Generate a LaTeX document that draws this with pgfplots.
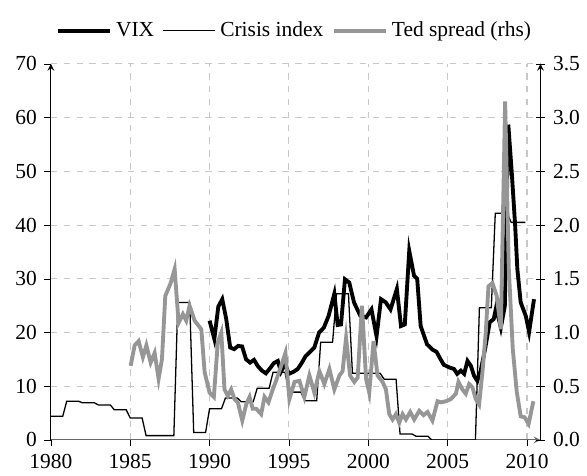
\documentclass[border=0pt]{standalone}
\usepackage{fontspec}
\setmainfont{Liberation Serif}
\usepackage{pgfplots}
\pgfplotsset{compat=1.18}
\definecolor{tedgray}{RGB}{150,150,150}
\definecolor{gridgray}{RGB}{200,200,200}

\begin{document}
\begin{tikzpicture}
\pgfplotsset{
  base/.style={
    width=228.3pt, height=175.3pt, scale only axis,
    xmin=1980, xmax=2010.85,
    font=\fontsize{10}{12}\selectfont,
    /pgf/number format/assume math mode=true,
    /pgf/number format/1000 sep={},
    axis line style={-},
  },
}
% left axis: VIX and crisis index
\begin{axis}[base, name=ax,
  ymin=0, ymax=70, ytick={0,10,...,70},
  xtick={1980,1985,...,2010},
  axis x line=bottom, axis y line=left,
  x axis line style={black!60},
  tick align=outside, major tick length=3pt,
  tick style={black},
  grid=major,
  major grid style={gridgray, dash pattern=on 3pt off 3pt, line width=0.5pt},
]
\addplot[black, line width=0.6pt] coordinates {
  (1980,4.4)(1980.75,4.4)(1981,7.2)(1981.75,7.2)(1982,6.9)(1982.75,6.9)
  (1983,6.5)(1983.75,6.5)(1984,5.6)(1984.75,5.6)(1985,4.1)(1985.75,4.1)
  (1986,0.8)(1987.75,0.8)(1988,25.6)(1988.75,25.6)(1989,1.4)(1989.75,1.4)
  (1990,5.8)(1990.75,5.8)(1991,7.8)(1991.75,7.8)(1992,7.1)(1992.75,7.1)
  (1993,9.6)(1993.75,9.6)(1994,12.6)(1994.75,12.6)(1995,8.9)(1995.75,8.9)
  (1996,7.3)(1996.75,7.3)(1997,18.2)(1997.75,18.2)(1998,27.2)(1998.75,27.2)
  (1999,12.4)(2000.75,12.4)(2001,11.3)(2001.75,11.3)(2002,1.1)(2002.75,1.1)
  (2003,0.7)(2003.75,0.7)(2004,0)(2006.75,0)(2007,24.6)(2007.75,24.6)
  (2008,42.2)(2008.75,42.2)(2009,40.5)(2009.9,40.5)
};
\addplot[black, line width=1.8pt] coordinates {
  (1990.0,22.2)(1990.3,18.8)(1990.55,24.8)(1990.8,26.2)(1991.05,22.5)
  (1991.3,17.2)(1991.55,16.9)(1991.8,17.5)(1992.05,17.4)(1992.3,15.0)
  (1992.55,14.4)(1992.8,14.9)(1993.05,13.7)(1993.3,12.9)(1993.55,12.4)
  (1993.8,13.3)(1994.05,14.3)(1994.3,14.7)(1994.5,12.7)(1994.75,14.1)
  (1995.0,12.3)(1995.3,12.7)(1995.55,13.2)(1995.8,14.3)(1996.05,15.6)
  (1996.3,16.3)(1996.6,17.2)(1996.9,20.0)(1997.2,20.9)(1997.5,23.1)
  (1997.86,27.2)(1998.07,21.4)(1998.28,21.5)(1998.53,29.9)(1998.8,29.3)
  (1999.1,25.6)(1999.5,23.1)(1999.86,22.8)(2000.2,24.3)(2000.52,19.3)
  (2000.8,26.2)(2001.1,25.6)(2001.4,24.3)(2001.8,28.1)(2002.06,21.2)
  (2002.3,21.5)(2002.58,35.2)(2002.88,30.6)(2003.08,30.0)(2003.3,21.2)
  (2003.7,17.8)(2004.05,16.8)(2004.3,16.4)(2004.5,15.3)(2004.75,14.0)
  (2005.1,13.5)(2005.4,13.2)(2005.6,12.3)(2005.83,12.9)(2006.04,12.3)
  (2006.25,14.7)(2006.46,13.8)(2006.67,11.9)(2006.87,11.0)(2007.09,13.0)
  (2007.35,16.8)(2007.65,21.9)(2007.9,22.5)(2008.05,24.6)(2008.35,20.9)
  (2008.6,24.9)(2008.82,58.7)(2009.04,49.7)(2009.25,40.0)(2009.39,31.8)
  (2009.6,25.6)(2009.92,23.1)(2010.13,20.1)(2010.44,26.2)
};
\end{axis}
% right axis: Ted spread
\begin{axis}[base,
  ymin=0, ymax=3.5, ytick={0,0.5,...,3.5},
  axis y line=right, axis x line=none,
  tick align=center, major tick length=4.6pt,
  tick style={black},
  yticklabel style={/pgf/number format/.cd, fixed, fixed zerofill, precision=1},
  legend style={at={(0.5,1)}, anchor=south, yshift=7pt, draw=none,
    legend columns=3, font=\fontsize{10}{12}\selectfont,
    /tikz/every even column/.append style={column sep=2pt}},
  legend image code/.code={\draw[#1] (0cm,0cm) -- (0.85cm,0cm);},
]
\addlegendimage{black, line width=1.8pt}\addlegendentry{VIX}
\addlegendimage{black, line width=0.6pt}\addlegendentry{Crisis index}
\addplot[tedgray, line width=1.8pt] coordinates {
  (1985.03,0.69)(1985.28,0.88)(1985.53,0.92)(1985.8,0.77)(1986.02,0.88)
  (1986.29,0.72)(1986.54,0.81)(1986.79,0.57)(1987.0,0.75)(1987.21,1.34)
  (1987.55,1.46)(1987.8,1.59)(1988.05,1.09)(1988.32,1.17)(1988.53,1.11)
  (1988.74,1.25)(1989.06,1.11)(1989.48,1.03)(1989.69,0.63)(1990.0,0.44)
  (1990.27,0.40)(1990.52,0.91)(1990.74,1.00)(1990.94,0.47)(1991.15,0.41)
  (1991.36,0.47)(1991.57,0.38)(1991.78,0.35)(1992.06,0.18)(1992.31,0.33)
  (1992.52,0.40)(1992.72,0.29)(1992.94,0.29)(1993.25,0.24)(1993.46,0.40)
  (1993.71,0.35)(1993.98,0.47)(1994.19,0.55)(1994.51,0.69)(1994.78,0.81)
  (1995.03,0.38)(1995.35,0.54)(1995.66,0.55)(1995.97,0.40)(1996.29,0.60)
  (1996.6,0.44)(1996.92,0.64)(1997.23,0.52)(1997.55,0.66)(1997.86,0.47)
  (1998.18,0.60)(1998.38,0.64)(1998.6,0.95)(1998.85,0.60)(1999.12,0.54)
  (1999.33,0.58)(1999.6,1.25)(1999.86,0.57)(2000.06,0.44)(2000.33,0.92)
  (2000.58,0.60)(2000.9,0.54)(2001.11,0.47)(2001.32,0.24)(2001.53,0.19)
  (2001.74,0.24)(2001.95,0.16)(2002.16,0.24)(2002.37,0.19)(2002.64,0.26)
  (2002.89,0.19)(2003.21,0.27)(2003.48,0.23)(2003.73,0.26)(2004.04,0.18)
  (2004.36,0.36)(2004.57,0.35)(2004.89,0.36)(2005.2,0.38)(2005.52,0.43)
  (2005.68,0.54)(2005.93,0.47)(2006.14,0.43)(2006.35,0.52)(2006.56,0.49)
  (2006.77,0.38)(2006.98,0.33)(2007.19,0.63)(2007.4,1.00)(2007.57,1.43)
  (2007.82,1.46)(2008.09,1.34)(2008.35,1.03)(2008.62,3.15)(2008.85,1.60)
  (2009.1,0.85)(2009.35,0.45)(2009.6,0.22)(2009.85,0.21)(2010.1,0.15)
  (2010.4,0.36)
};
\addlegendentry{Ted spread (rhs)}
\end{axis}
\path ([shift={(-23.7pt,-16.7pt)}]ax.south west) rectangle ([shift={(20.9pt,29.8pt)}]ax.north east);
\end{tikzpicture}
\end{document}
